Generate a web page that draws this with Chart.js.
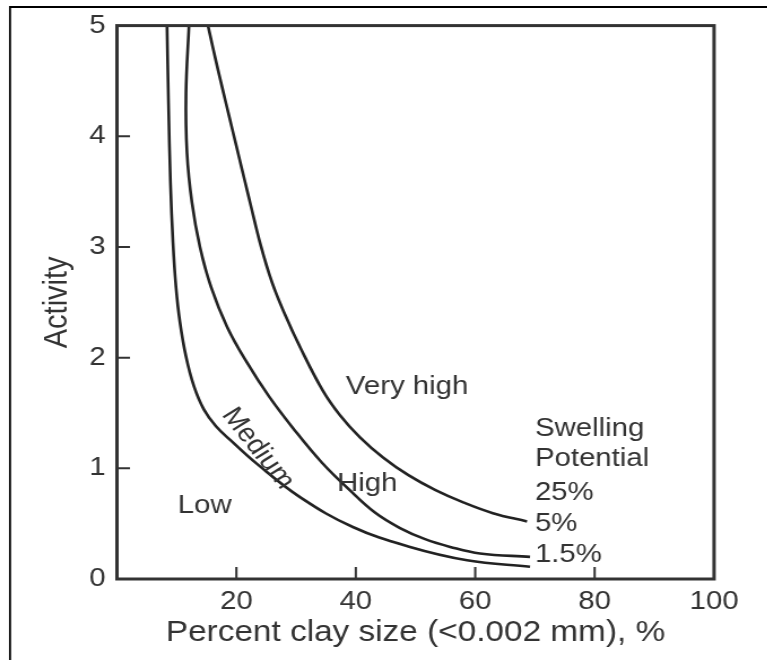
<!DOCTYPE html>
<html>
<head>
<meta charset="utf-8">
<title>Activity vs clay fraction – swelling potential</title>
<script src="https://cdn.jsdelivr.net/npm/chart.js@4/dist/chart.umd.min.js"></script>
<style>
  html, body { margin: 0; padding: 0; background: #fff; overflow: hidden; }
  /* the figure is set in a slightly wide typeface, so the whole drawing is widened a little */
  #wrap { position: absolute; left: 0; top: 0; width: 679px; height: 660px;
          transform: scaleX(1.13); transform-origin: 0 0; }
</style>
</head>
<body>
<div id="wrap"><canvas id="chart"></canvas></div>
<script>
// Boundary curves: percent clay (<0.002 mm) vs activity
const lowMediumX = [8.38, 8.63, 8.96, 9.38, 9.88, 10.55, 11.56, 12.9, 14.57, 16.58, 19.1, 23.45, 30.65, 39.5, 49.08, 58.63, 69.18];
const lowMediumY = [5.00, 4.30, 3.58, 3.04, 2.64, 2.32, 2.01, 1.74, 1.53, 1.38, 1.25, 1.04, 0.74, 0.47, 0.29, 0.17, 0.11];

const mediumHighX = [12.06, 11.56, 11.73, 12.56, 13.9, 15.75, 18.43, 21.61, 25.46, 29.82, 34.34, 39.03, 43.2, 47.4, 51.6, 55.8, 60.8, 69.18];
const mediumHighY = [5.00, 4.39, 3.85, 3.40, 3.00, 2.64, 2.28, 1.97, 1.65, 1.34, 1.05, 0.80, 0.60, 0.46, 0.36, 0.29, 0.23, 0.20];

const highVeryHighX = [15.24, 16.92, 19.6, 22.3, 24.1, 25.97, 27.97, 30.8, 34.5, 37.35, 40.7, 44.56, 48.81, 53.35, 58.09, 62.96, 68.68];
const highVeryHighY = [5.00, 4.60, 4.00, 3.40, 3.01, 2.68, 2.41, 2.08, 1.70, 1.48, 1.28, 1.098, 0.938, 0.803, 0.69, 0.595, 0.52];

// Axis ticks
const xTickValues = [20, 40, 60, 80, 100];
const yTickValues = [0, 1, 2, 3, 4, 5];
const xInnerTicks = [20, 40, 60, 80];
const yInnerTicks = [1, 2, 3, 4];

// Region names and the swelling potential key
const regionLabels = ['Very high', 'High', 'Low'];
const regionLabelX = [48.6, 41.9, 14.7];
const regionLabelY = [1.74, 0.86, 0.66];
const keyLines = ['Swelling', 'Potential', '25%', '5%', '1.5%'];
const keyLineY = [1.36, 1.09, 0.78, 0.50, 0.215];
const keyX = 70.0;

const toPoints = (xs, ys) => xs.map((x, i) => ({ x: x, y: ys[i] }));

const INK = '#222';
const TEXT = '#333';
const FONT = "'Liberation Sans', Arial, Helvetica, sans-serif";
Chart.defaults.font.family = FONT;
Chart.defaults.color = TEXT;

const curveStyle = {
  showLine: true, borderColor: INK, borderWidth: 2.6, pointRadius: 0,
  tension: 0.4, fill: false, clip: false
};

// Frame, inner tick marks and text written inside the plot
const decorations = {
  id: 'decorations',
  afterDraw(chart) {
    const { ctx, chartArea: a, scales: { x, y } } = chart;
    ctx.save();

    // outer frame of the figure (top and left edges)
    ctx.strokeStyle = '#000';
    ctx.lineWidth = 1.8;
    ctx.beginPath();
    ctx.moveTo(8.85, chart.height);
    ctx.lineTo(8.85, 7);
    ctx.lineTo(chart.width, 7);
    ctx.stroke();

    // plot box
    ctx.strokeStyle = '#333';
    ctx.lineWidth = 3;
    ctx.strokeRect(a.left, a.top, a.right - a.left, a.bottom - a.top);

    // tick marks pointing into the plot
    ctx.lineWidth = 2;
    ctx.beginPath();
    xInnerTicks.forEach(v => {
      const px = x.getPixelForValue(v);
      ctx.moveTo(px, a.bottom);
      ctx.lineTo(px, a.bottom - 12);
    });
    yInnerTicks.forEach(v => {
      const py = y.getPixelForValue(v);
      ctx.moveTo(a.left, py);
      ctx.lineTo(a.left + 11.5, py);
    });
    ctx.stroke();

    ctx.fillStyle = TEXT;
    ctx.font = '26px ' + FONT;
    ctx.textBaseline = 'middle';

    ctx.textAlign = 'center';
    regionLabels.forEach((t, i) => {
      ctx.fillText(t, x.getPixelForValue(regionLabelX[i]), y.getPixelForValue(regionLabelY[i]));
    });

    // "Medium" runs along the band between the two lower curves
    ctx.save();
    ctx.translate(x.getPixelForValue(23.6), y.getPixelForValue(1.18));
    ctx.rotate(55 * Math.PI / 180);
    ctx.fillText('Medium', 0, 0);
    ctx.restore();

    ctx.textAlign = 'left';
    keyLines.forEach((t, i) => {
      ctx.fillText(t, x.getPixelForValue(keyX), y.getPixelForValue(keyLineY[i]));
    });

    ctx.restore();
  }
};

new Chart(document.getElementById('chart'), {
  type: 'scatter',
  data: {
    datasets: [
      { ...curveStyle, data: toPoints(lowMediumX, lowMediumY) },
      { ...curveStyle, data: toPoints(mediumHighX, mediumHighY) },
      { ...curveStyle, data: toPoints(highVeryHighX, highVeryHighY) }
    ]
  },
  options: {
    responsive: true,
    maintainAspectRatio: false,
    animation: false,
    devicePixelRatio: 1,
    layout: { padding: { left: 0, top: 22, right: 47.1, bottom: 0 } },
    plugins: { legend: { display: false }, tooltip: { enabled: false } },
    scales: {
      x: {
        type: 'linear', min: 0, max: 100,
        afterBuildTicks: s => { s.ticks = xTickValues.map(v => ({ value: v })); },
        afterFit: s => { s.height = 81; },
        grid: { display: false, drawTicks: false },
        border: { display: false },
        ticks: { padding: 7, maxRotation: 0, autoSkip: false, color: TEXT, font: { size: 26 } },
        title: {
          display: true, text: 'Percent clay size (<0.002 mm), %', color: TEXT,
          font: { size: 29.5 }, padding: { top: 0, bottom: 9.6 }
        }
      },
      y: {
        type: 'linear', min: 0, max: 5,
        afterBuildTicks: s => { s.ticks = yTickValues.map(v => ({ value: v })); },
        afterFit: s => { s.width = 103.5; },
        grid: { display: false, drawTicks: false },
        border: { display: false },
        ticks: { padding: 10, autoSkip: false, color: TEXT, font: { size: 26 } },
        title: {
          display: true, text: 'Activity', color: TEXT,
          font: { size: 29 }, padding: { top: 34, bottom: 0 }
        }
      }
    }
  },
  plugins: [decorations]
});
</script>
</body>
</html>
